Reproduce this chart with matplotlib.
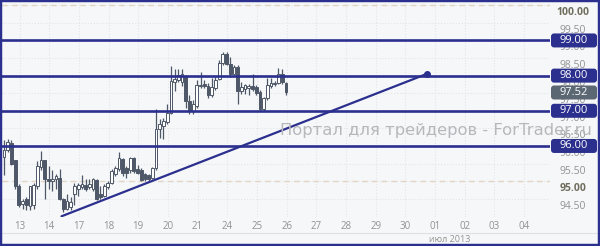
import matplotlib.pyplot as plt
import numpy as np
from matplotlib.patches import FancyBboxPatch
from matplotlib.transforms import IdentityTransform

# 3-hour candles, 12 Jun - 26 Jun 2013
opens = [95.70, 95.89, 96.07, 95.59, 94.87, 94.36, 94.50, 94.30, 94.32, 94.85,
         95.41, 95.59, 95.07, 95.01, 95.06, 95.10, 94.50, 94.22, 94.27, 94.64,
         94.78, 94.82, 94.89, 94.82, 94.78, 95.04, 94.64, 94.59, 94.82, 94.96,
         95.20, 95.35, 95.63, 95.38, 95.33, 95.66, 95.35, 95.33, 95.20, 95.17,
         95.10, 95.38, 96.49, 96.58, 96.68, 96.95, 97.83, 97.88, 97.83, 98.00,
         97.28, 97.00, 97.14, 97.70, 97.76, 97.70, 97.44, 97.65, 97.91, 98.37,
         98.62, 98.34, 98.06, 98.25, 97.56, 97.63, 97.65, 97.70, 97.67, 97.54,
         97.05, 97.35, 97.70, 97.76, 97.79, 98.06, 97.79]
highs = [96.17, 96.19, 96.17, 95.61, 94.92, 94.50, 94.55, 94.87, 94.96, 95.57,
         95.87, 95.61, 95.43, 95.33, 95.20, 95.35, 94.52, 94.64, 94.55, 94.96,
         94.96, 95.17, 95.06, 95.07, 95.10, 95.06, 94.87, 94.92, 95.01, 95.35,
         95.43, 95.84, 95.66, 95.43, 95.70, 95.69, 95.47, 95.38, 95.24, 95.20,
         95.41, 97.05, 96.77, 96.80, 97.19, 98.28, 98.19, 98.19, 98.20, 98.02,
         97.46, 97.32, 97.88, 98.09, 97.88, 97.79, 97.93, 97.97, 98.44, 98.67,
         98.67, 98.53, 98.30, 98.30, 97.83, 97.76, 97.76, 98.04, 97.72, 97.60,
         97.39, 97.93, 97.93, 97.85, 98.22, 98.20, 97.83]
lows = [95.17, 95.84, 95.47, 94.78, 94.27, 94.22, 94.18, 94.18, 94.22, 94.78,
        95.33, 94.50, 94.78, 94.73, 94.78, 94.45, 94.11, 94.18, 94.18, 94.32,
        94.59, 94.78, 94.73, 94.78, 94.73, 94.45, 94.50, 94.55, 94.78, 94.92,
        95.15, 95.29, 95.15, 95.10, 95.24, 95.24, 95.20, 95.01, 95.01, 95.01,
        95.06, 95.33, 96.24, 96.21, 96.63, 96.91, 97.56, 97.83, 97.70, 97.09,
        96.91, 96.91, 97.09, 97.65, 97.65, 97.37, 97.39, 97.60, 97.88, 98.30,
        98.30, 97.97, 98.02, 97.20, 97.48, 97.48, 97.46, 97.56, 97.46, 97.00,
        96.98, 97.30, 97.65, 97.70, 97.76, 97.76, 97.46]
closes = [95.89, 96.12, 95.50, 94.87, 94.32, 94.43, 94.32, 94.85, 94.89, 95.43,
          95.59, 95.07, 95.01, 95.07, 95.15, 94.50, 94.22, 94.43, 94.40, 94.87,
          94.89, 94.92, 94.78, 94.92, 95.06, 94.50, 94.55, 94.87, 94.96, 95.29,
          95.38, 95.66, 95.22, 95.24, 95.66, 95.29, 95.24, 95.04, 95.06, 95.06,
          95.38, 96.49, 96.63, 96.70, 96.95, 97.85, 97.89, 98.02, 98.04, 97.28,
          97.00, 97.19, 97.74, 97.74, 97.70, 97.44, 97.67, 97.88, 98.37, 98.62,
          98.34, 98.06, 98.25, 97.57, 97.67, 97.72, 97.70, 97.63, 97.51, 97.05,
          97.35, 97.72, 97.79, 97.79, 98.06, 97.81, 97.52]

day_labels = ['13', '14', '17', '18', '19', '20', '21', '24', '25', '26',
              '27', '28', '29', '30', '01', '02', '03', '04']
month_label = 'июл 2013'

levels = [99.0, 98.0, 97.0, 96.0]
trend_x = [15.5, 114.0]        # candle index
trend_y = [94.00, 98.05]
last_price = 97.52

axis_ticks = [100.0, 99.5, 99.0, 98.5, 98.0, 97.5, 97.0, 96.5, 96.0, 95.5, 95.0, 94.5]
watermark = 'Портал для трейдеров - ForTrader.ru'

navy = '#2b2f8e'
candle_col = '#4e5868'
bg = '#f6f7f9'
grey_txt = '#929292'

fig = plt.figure(figsize=(6, 2.46), dpi=100, facecolor=bg)
ax = fig.add_axes([2 / 600, 29 / 246, 548 / 600, 217 / 246])
ax.set_facecolor(bg)
for s in ax.spines.values():
    s.set_visible(False)

ax.set_xlim(-0.54, 147.2)
ax.set_ylim(93.98, 100.15)

# faint dotted grid
tick_x = 4.2 + 8 * np.arange(len(day_labels))
for tx in tick_x:
    ax.axvline(tx, color='#e3e5eb', lw=0.8, ls=':', zorder=0)
for ty in np.arange(94.5, 100.1, 0.5):
    ax.axhline(ty, color='#e3e5eb', lw=0.8, ls=':', zorder=0)
for ty in [100.0, 95.0]:
    ax.axhline(ty, color='#e2d5c4', lw=1.0, ls=(0, (4, 3)), zorder=1)

# candles
o = np.array(opens)
h = np.array(highs)
l = np.array(lows)
c = np.array(closes)
x = np.arange(len(o))
up = c >= o
ax.vlines(x, l, h, color=candle_col, lw=0.9, zorder=3)
ax.bar(x, np.maximum(np.abs(c - o), 0.02), bottom=np.minimum(o, c), width=0.75,
       color=np.where(up, 'white', candle_col), edgecolor=candle_col, lw=0.7, zorder=4)

# levels and trend line
for lv in levels:
    ax.axhline(lv, color=navy, lw=1.9, zorder=5)
ax.plot(trend_x, trend_y, color=navy, lw=1.6, zorder=5, solid_capstyle='round')
ax.plot(trend_x[-1], trend_y[-1], 'o', color=navy, ms=4, zorder=6)

ax.set_xticks(tick_x, day_labels)
ax.set_yticks([])
ax.tick_params(axis='x', length=0, pad=3, labelsize=7, labelcolor=grey_txt)
for t in ax.get_xticklabels():
    t.set_family('Open Sans')

# right price scale
for v in axis_ticks:
    major = v in (100.0, 95.0)
    ax.annotate('%.2f' % v, xy=(1, v), xycoords=('axes fraction', 'data'),
                xytext=(23, -7.5), textcoords='offset pixels', ha='center', va='center',
                fontsize=7.5, family='Open Sans', annotation_clip=False,
                color='#6f6d5c' if major else grey_txt,
                fontweight='bold' if major else 'normal')

# price boxes
boxes = [(lv, navy) for lv in levels] + [(last_price, '#5c6774')]
for v, col in boxes:
    yd = ax.transData.transform((0, v))[1]
    fig.add_artist(FancyBboxPatch((551, yd - 7), 46, 14,
                                  boxstyle='round,pad=0,rounding_size=3',
                                  transform=IdentityTransform(), fc=col, ec='none', zorder=5))
    fig.text(573.5, yd, '%.2f' % v, transform=IdentityTransform(), ha='center', va='center',
             color='white', fontsize=8, family='Open Sans', zorder=6)

fig.text(450 / 600, 6 / 246, month_label, ha='center', va='center', fontsize=6.5,
         family='Open Sans', color=grey_txt)
fig.add_artist(plt.Line2D([2 / 600, 1], [13 / 246, 13 / 246], color='#e0e1e6', lw=0.8))

fig.text(436 / 600, 115 / 246, watermark, ha='center', va='center', fontsize=11.8,
         color='#b8b8bc', zorder=7)

# frame
fig.add_artist(plt.Rectangle((0, 0), 1, 1, transform=fig.transFigure, fill=False,
                             ec=navy, lw=3.2, zorder=8))
fig.add_artist(plt.Line2D([0, 1], [1 / 246, 1 / 246], color=navy, lw=2, zorder=8))

fig.savefig('out.png', dpi=100, facecolor=bg)
